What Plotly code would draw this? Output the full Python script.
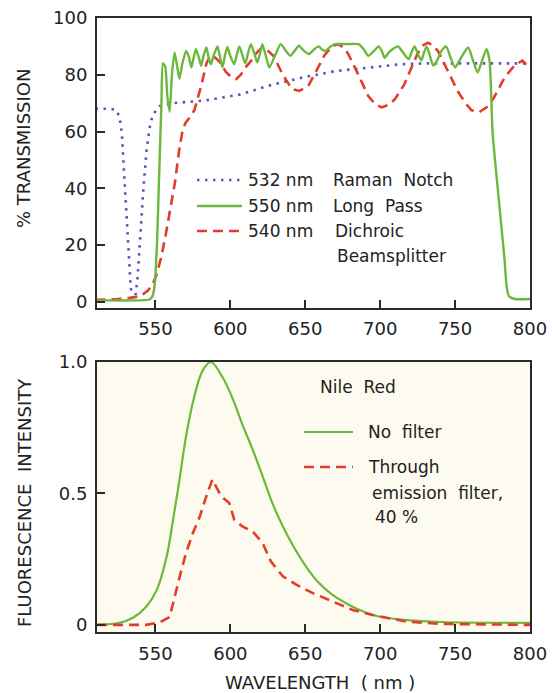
import plotly.graph_objects as go

W, H = 552, 693

# ---------------- data: top panel (% transmission) ----------------
notch_x = [510, 520, 524, 526, 527.5, 529, 530.5, 532, 533.5, 535, 536.5, 538, 540, 542, 544, 546, 548,
           551, 553, 562, 584, 606, 628, 648, 670, 692, 714, 730, 760, 800]
notch_y = [68, 68, 67.5, 65, 60, 45, 30, 15, 5, 1, 1.5, 8, 25, 40, 53, 61, 65.5,
           68, 69, 70, 71, 73, 76.5, 79, 81.3, 82.6, 83.7, 84, 84, 84]

long_x = [510, 540, 546, 548, 549.5, 551, 552.5, 554, 555, 556.5, 558, 559.5, 561, 562.8, 564.5, 566,
          568, 570.5, 572.5, 574, 575.5, 577, 579, 580.5, 582, 584, 585.5, 587, 589, 591.4, 593, 594.7,
          596.5, 598, 600, 602.6, 604.5, 606, 608, 610, 612, 613.7, 616, 618, 620, 621.4, 624, 626,
          630, 633.6, 637, 640, 643, 645.8, 649, 652.5, 656, 659, 661, 663.5, 667, 670, 678, 685.6,
          689, 692, 696, 699, 701, 703, 706, 710, 712, 715, 719, 721, 723, 725, 727.5, 729, 731, 733,
          735.5, 738, 741, 744, 747, 750, 754, 758.7, 762, 765, 768, 771, 773, 775, 777, 779, 781, 783,
          784.5, 786, 790, 800]
long_y = [0.5, 0.5, 0.8, 2, 6, 20, 45, 70, 84, 83, 72, 67, 80, 87.8, 83, 78.6,
          84, 88.4, 86, 82.6, 86, 89, 86, 83.2, 86.5, 89.6, 86, 83.7, 87, 90, 86.5, 82.6,
          87, 89.8, 86.5, 83.7, 87.5, 90, 87, 84, 88, 90.8, 87.5, 84.3, 88, 90.8, 86, 82.6,
          87, 90.8, 88.5, 86.7, 88.5, 90.2, 88.5, 87.3, 89, 90, 89, 88.4, 90, 90.8, 90.8, 90.8,
          89, 86.7, 88.5, 90, 88.5, 86, 88, 89.6, 90, 88, 85.5, 88, 90, 87.5, 85, 87.5, 90, 87,
          83.2, 85, 88.5, 90, 86, 82.6, 86, 89.6, 85, 80.8, 85, 89, 85, 60, 48, 37, 26, 15,
          5, 2, 1, 1]

dichroic_x = [510, 525, 535, 540, 545, 548, 551, 554, 557, 560, 563, 566, 568, 570, 573, 576, 578, 581,
              584, 587, 590, 593, 597, 601, 604, 607, 610, 614, 617, 621, 624, 629, 635, 641, 646, 652,
              657, 663, 668, 672, 676, 679, 685, 692, 697, 701, 706, 710, 716, 719, 725, 729, 732, 736,
              739, 745, 752, 757, 761, 766, 771, 776, 783, 790, 795, 800]
dichroic_y = [0.7, 1, 1.5, 2, 4, 6, 10, 16, 24, 33, 42, 54, 60, 63, 65, 67.5, 71, 77,
              84, 87, 86, 84.5, 81, 79, 78.5, 80, 82.5, 85, 87.5, 89.5, 89, 86.5, 80, 75, 74.3, 76,
              81, 87, 90, 90.8, 89.5, 87, 80.5, 72.5, 69.5, 68.5, 69.5, 71.5, 76.5, 80, 87.5, 90.5, 91.3, 90,
              88, 81.5, 74, 70, 67.5, 66.8, 68.5, 72, 79, 83.5, 85, 82]

# ---------------- data: bottom panel (fluorescence) ----------------
nofilt_x = [511, 526, 535, 544, 551, 557.5, 561.5, 566, 570.5, 576, 581.5, 587, 595, 601.6, 608, 614.8,
            621.5, 628, 635, 641.5, 650.4, 659.2, 668, 679.3, 690.4, 699, 718, 741, 800]
nofilt_y = [0, 0.008, 0.027, 0.07, 0.134, 0.26, 0.39, 0.55, 0.72, 0.87, 0.967, 1.0, 0.94, 0.86, 0.763, 0.668,
            0.566, 0.464, 0.375, 0.305, 0.223, 0.159, 0.115, 0.076, 0.047, 0.032, 0.018, 0.011, 0.008]

filt_x = [511, 544, 553, 559.5, 566, 570.5, 575, 579.5, 584, 588, 591.5, 593.8, 599.3, 602.6, 608, 614.8,
          621.5, 627, 635, 644, 655, 668, 681.6, 694.8, 718, 740, 800]
filt_y = [0, 0, 0.01, 0.03, 0.18, 0.275, 0.35, 0.41, 0.49, 0.553, 0.515, 0.49, 0.464, 0.40, 0.375, 0.356,
          0.312, 0.242, 0.185, 0.153, 0.121, 0.089, 0.057, 0.038, 0.012, 0.004, 0.0]

top_yticks = [0, 20, 40, 60, 80, 100]
bot_yticks = [0, 0.5, 1.0]
bot_yticklabels = ["0", "0.5", "1.0"]
xticks = [550, 600, 650, 700, 750, 800]

GREEN = "#6cb83c"
RED = "#e53b2b"
BLUE = "#5a55b8"
INK = "#222222"
FONT = "DejaVu Sans"

fig = go.Figure()
fig.add_trace(go.Scatter(x=notch_x, y=notch_y, mode="lines", line=dict(color=BLUE, width=2.6, dash="2.5px,5.5px"),
                         xaxis="x", yaxis="y", showlegend=False))
fig.add_trace(go.Scatter(x=dichroic_x, y=dichroic_y, mode="lines", line=dict(color=RED, width=2.6, dash="10px,6px"),
                         xaxis="x", yaxis="y", showlegend=False))
fig.add_trace(go.Scatter(x=long_x, y=long_y, mode="lines", line=dict(color=GREEN, width=2.4, shape="spline", smoothing=0.6),
                         xaxis="x", yaxis="y", showlegend=False))
fig.add_trace(go.Scatter(x=nofilt_x, y=nofilt_y, mode="lines", line=dict(color=GREEN, width=2.2, shape="spline"),
                         xaxis="x2", yaxis="y2", showlegend=False))
fig.add_trace(go.Scatter(x=filt_x, y=filt_y, mode="lines", line=dict(color=RED, width=2.6, dash="10px,6px"),
                         xaxis="x2", yaxis="y2", showlegend=False))

def px(x):
    return x / W

def py(y):
    return 1 - y / H

axis_common = dict(showgrid=False, zeroline=False, showline=True, mirror=True, linecolor="#2a2a2a",
                   linewidth=2, ticks="inside", ticklen=8, tickwidth=2, tickcolor="#2a2a2a",
                   automargin=False, tickfont=dict(family=FONT, size=18, color=INK))

fig.update_layout(
    width=W, height=H, margin=dict(l=0, r=0, t=0, b=0, autoexpand=False),
    paper_bgcolor="white", plot_bgcolor="rgba(0,0,0,0)",
    xaxis=dict(domain=[px(97), px(530)], range=[511, 800], tickvals=xticks, anchor="y",
               ticklabelstandoff=4, **axis_common),
    yaxis=dict(domain=[py(307.5), py(18)], range=[-2, 100], tickvals=top_yticks, anchor="x",
               ticklabelstandoff=4, **axis_common),
    xaxis2=dict(domain=[px(97), px(530)], range=[511, 800], tickvals=xticks, anchor="y2",
                ticklabelstandoff=4, **axis_common),
    yaxis2=dict(domain=[py(632), py(362)], range=[-0.027, 1.0], tickvals=bot_yticks, ticktext=bot_yticklabels,
                anchor="x2", ticklabelstandoff=4, **axis_common),
)

shapes = [dict(type="rect", xref="x2 domain", yref="y2 domain", x0=0, x1=1, y0=0, y1=1,
               fillcolor="#fdfbef", line=dict(width=0), layer="below")]

def seg(x0, x1, y, color, dash, width=2.6):
    return dict(type="line", xref="paper", yref="paper", x0=px(x0), x1=px(x1), y0=py(y), y1=py(y),
                line=dict(color=color, width=width, dash=dash))

shapes += [seg(197, 242, 180, BLUE, "2.5px,5.5px"), seg(197, 242, 206, GREEN, "solid", 2.4),
           seg(197, 242, 231, RED, "10px,6px"),
           seg(304, 353, 432, GREEN, "solid", 2.2), seg(304, 353, 467, RED, "10px,6px")]
fig.update_layout(shapes=shapes)

def note(text, x, y, size=17, xanchor="left", angle=0):
    return dict(text=text, x=px(x), y=py(y), xref="paper", yref="paper", showarrow=False,
                xanchor=xanchor, yanchor="middle", textangle=angle,
                font=dict(family=FONT, size=size, color=INK))

anns = [
    note("532 nm", 246, 180), note("Raman  Notch", 331, 180),
    note("550 nm", 246, 206), note("Long  Pass", 331, 206),
    note("540 nm", 246, 231), note("Dichroic", 333, 231),
    note("Beamsplitter", 335, 256),
    note("Nile  Red", 318, 387),
    note("No  filter", 366, 432),
    note("Through", 366, 467),
    note("emission  filter,", 370, 493),
    note("40 %", 373, 517),
    note("% TRANSMISSION", 24, 149, size=18, xanchor="center", angle=-90),
    note("FLUORESCENCE  INTENSITY", 24, 503, size=18, xanchor="center", angle=-90),
    note("WAVELENGTH  ( nm )", 320, 682, size=18, xanchor="center"),
]
fig.update_layout(annotations=anns)

fig.write_html("out.html", config={"displayModeBar": False},
               post_script="document.body.style.margin='0';document.body.style.overflow='hidden';")
